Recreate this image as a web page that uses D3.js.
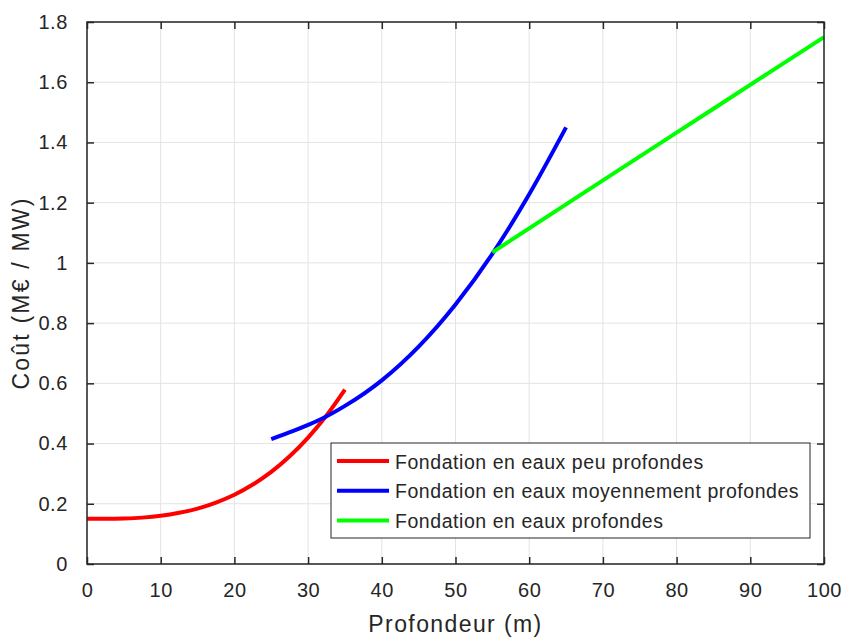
<!DOCTYPE html>
<html lang="fr">
<head>
<meta charset="utf-8">
<script src="https://d3js.org/d3.v7.min.js"></script>
<style>
  body { margin: 0; background: #fff; }
  text { font-family: "Liberation Sans", Arial, sans-serif; fill: #262626; }
</style>
</head>
<body>
<script>
// values
const shallowX = [0, 2.5, 5, 7.5, 10, 12.5, 15, 17.5, 20, 22.5, 25, 27.5, 30, 32.5, 35];
const shallowY = [0.150, 0.150, 0.151, 0.154, 0.160, 0.170, 0.184, 0.204, 0.230, 0.264, 0.306, 0.358, 0.420, 0.493, 0.579];

const mediumX = [25, 28, 30, 32, 35, 40, 45, 50, 55, 60, 65];
const mediumY = [0.415, 0.442, 0.462, 0.484, 0.525, 0.610, 0.722, 0.862, 1.030, 1.228, 1.450];

const deepX = [55, 70, 85, 100];
const deepY = [1.035, 1.274, 1.512, 1.750];

const xTicks = [0, 10, 20, 30, 40, 50, 60, 70, 80, 90, 100];
const yTicks = [0, 0.2, 0.4, 0.6, 0.8, 1, 1.2, 1.4, 1.6, 1.8];

const seriesNames = ["Fondation en eaux peu profondes", "Fondation en eaux moyennement profondes", "Fondation en eaux profondes"];
const seriesColours = ["#ff0000", "#0000ff", "#00ff00"];

const W = 844, H = 637;
const margin = {top: 22, right: 20, bottom: 73, left: 87};
const width = W - margin.left - margin.right;
const height = H - margin.top - margin.bottom;

const svg = d3.select("body").append("svg")
    .attr("width", W)
    .attr("height", H);

const g = svg.append("g")
    .attr("transform", "translate(" + margin.left + "," + margin.top + ")");

const x = d3.scaleLinear().domain([0, 100]).range([0, width]);
const y = d3.scaleLinear().domain([0, 1.8]).range([height, 0]);

// grid
g.append("g").selectAll("line").data(xTicks).join("line")
    .attr("x1", d => x(d)).attr("x2", d => x(d))
    .attr("y1", 0).attr("y2", height)
    .attr("stroke", "#e3e3e3").attr("stroke-width", 1);
g.append("g").selectAll("line").data(yTicks).join("line")
    .attr("x1", 0).attr("x2", width)
    .attr("y1", d => y(d)).attr("y2", d => y(d))
    .attr("stroke", "#e3e3e3").attr("stroke-width", 1);

// curves
const line = d3.line()
    .x(d => x(d[0]))
    .y(d => y(d[1]))
    .curve(d3.curveMonotoneX);

const series = [
    d3.zip(shallowX, shallowY),
    d3.zip(mediumX, mediumY),
    d3.zip(deepX, deepY)
];

g.selectAll(".curve").data(series).join("path")
    .attr("class", "curve")
    .attr("d", line)
    .attr("fill", "none")
    .attr("stroke", (d, i) => seriesColours[i])
    .attr("stroke-width", 4);

// axes (ticks inward, box on)
function styleAxis(sel) {
    sel.select(".domain").remove();
    sel.selectAll(".tick line").attr("stroke", "#262626").attr("stroke-width", 1.5);
    sel.selectAll(".tick text")
        .style("font-size", "20px")
        .style("letter-spacing", "0.6px")
        .attr("fill", "#262626");
}

g.append("g")
    .attr("transform", "translate(0," + height + ")")
    .call(d3.axisBottom(x).tickValues(xTicks).tickSizeInner(-7).tickSizeOuter(0).tickPadding(19).tickFormat(d3.format("d")))
    .call(styleAxis);
g.append("g")
    .call(d3.axisTop(x).tickValues(xTicks).tickSizeInner(-7).tickSizeOuter(0).tickFormat(""))
    .call(styleAxis);
g.append("g")
    .call(d3.axisLeft(y).tickValues(yTicks).tickSizeInner(-7).tickSizeOuter(0).tickPadding(19).tickFormat(d => d3.format("")(+d.toFixed(1))))
    .call(styleAxis);
g.append("g")
    .attr("transform", "translate(" + width + ",0)")
    .call(d3.axisRight(y).tickValues(yTicks).tickSizeInner(-7).tickSizeOuter(0).tickFormat(""))
    .call(styleAxis);

g.append("rect")
    .attr("width", width).attr("height", height)
    .attr("fill", "none")
    .attr("stroke", "#262626").attr("stroke-width", 1.5);

// axis labels
svg.append("text")
    .attr("x", margin.left + width / 2)
    .attr("y", 632)
    .attr("text-anchor", "middle")
    .style("font-size", "23px")
    .style("letter-spacing", "1.4px")
    .text("Profondeur (m)");

svg.append("text")
    .attr("transform", "translate(29," + (margin.top + height / 2) + ") rotate(-90)")
    .attr("text-anchor", "middle")
    .style("font-size", "23px")
    .style("letter-spacing", "2.2px")
    .text("Coût (M€ / MW)");

// legend
const legend = svg.append("g").attr("transform", "translate(331,443)");
legend.append("rect")
    .attr("width", 479).attr("height", 95)
    .attr("fill", "#fff")
    .attr("stroke", "#262626").attr("stroke-width", 1);

const rows = legend.selectAll(".row").data(seriesNames).join("g")
    .attr("class", "row")
    .attr("transform", (d, i) => "translate(0," + (18 + i * 29.7) + ")");
rows.append("line")
    .attr("x1", 6).attr("x2", 58)
    .attr("stroke", (d, i) => seriesColours[i])
    .attr("stroke-width", 4);
rows.append("text")
    .attr("x", 64).attr("y", 7.5)
    .style("font-size", "19.5px")
    .style("letter-spacing", "0.55px")
    .attr("fill", "#000")
    .text(d => d);
</script>
</body>
</html>
